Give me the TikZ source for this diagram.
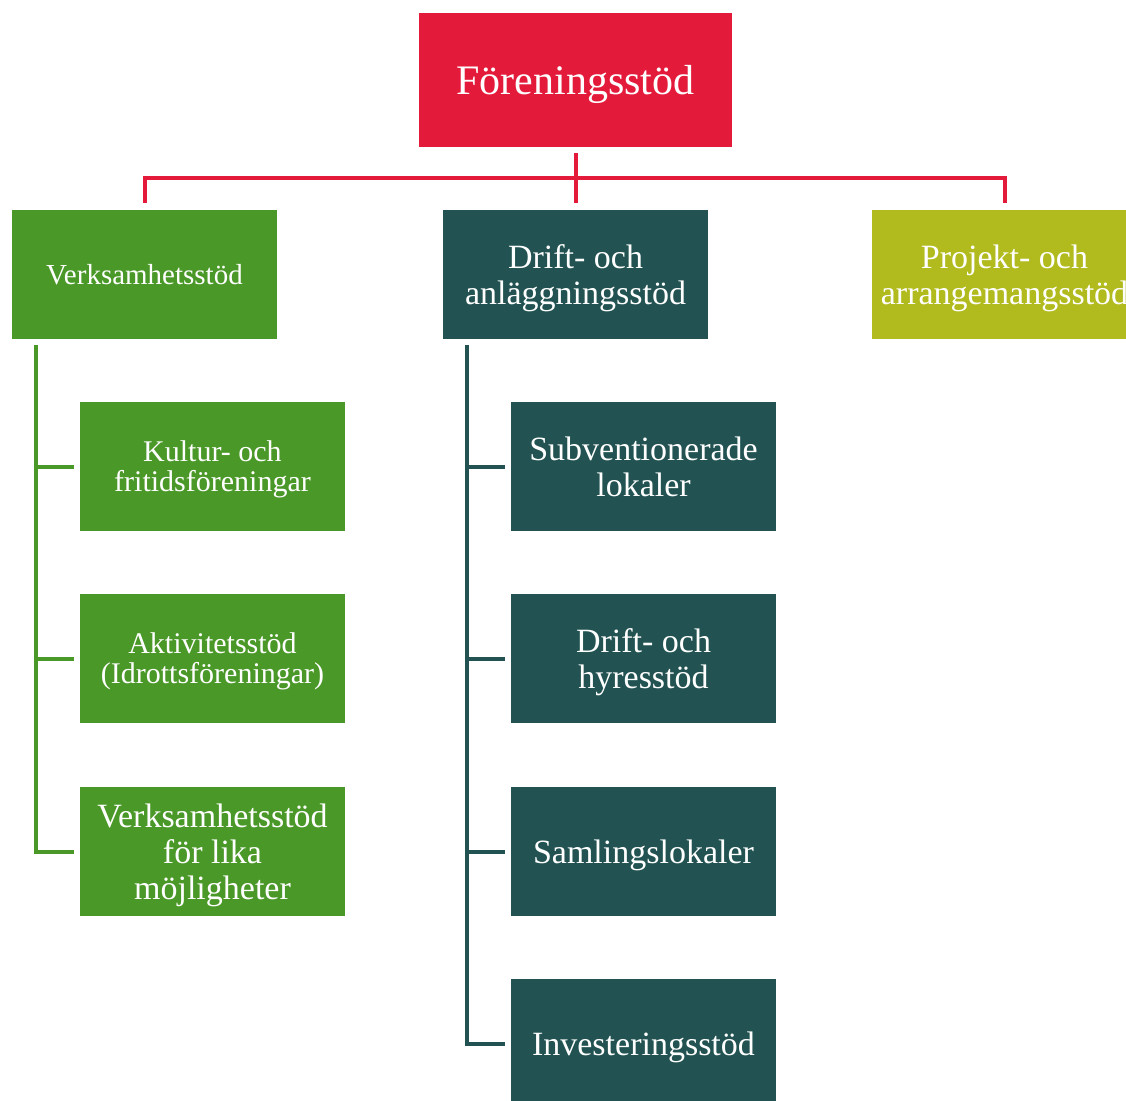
\documentclass[tikz,border=0pt]{standalone}
\usepackage{fontspec}
\setmainfont{Liberation Serif}
\usetikzlibrary{calc}
\definecolor{cred}{RGB}{228,26,59}
\definecolor{cgreen}{RGB}{74,152,40}
\definecolor{cteal}{RGB}{34,83,82}
\definecolor{colive}{RGB}{178,187,30}
\newcommand\nodepthline[1]{\raisebox{0pt}[\height][0pt]{#1}}
\begin{document}
\begin{tikzpicture}[x=1pt,y=-1pt,
  box/.style={minimum width=265, minimum height=129, inner sep=2pt, align=center, text=white, font=\fontsize{34}{36}\selectfont},
  smallbox/.style={box, font=\fontsize{30}{30}\selectfont},
  rline/.style={draw=cred, line width=4},
  gline/.style={draw=cgreen, line width=4},
  tline/.style={draw=cteal, line width=4}]
\useasboundingbox (0,0) rectangle (1126,1100);
\clip (0,0) rectangle (1126,1100);
% top
\node[box, fill=cred, minimum width=313, minimum height=134, font=\fontsize{42}{44}\selectfont] (top) at (575.5,80) {\nodepthline{Föreningsstöd}};
% level 1
\node[box, fill=cgreen, font=\fontsize{29}{32}\selectfont] (va) at (144.5,274.5) {Verksamhetsstöd};
\node[box, fill=cteal] (da) at (575.5,274.5) {Drift- och\\\nodepthline{anläggningsstöd}};
\node[box, fill=colive] (pa) at (1004.5,274.5) {Projekt- och\\\nodepthline{arrangemangsstöd}};
% green children
\node[smallbox, fill=cgreen] (g1) at (212.5,466.5) {Kultur- och\\\nodepthline{fritidsföreningar}};
\node[smallbox, fill=cgreen] (g2) at (212.5,658.5) {Aktivitetsstöd\\\nodepthline{(Idrottsföreningar)}};
\node[box, fill=cgreen] (g3) at (212.5,851.5) {Verksamhetsstöd\\för lika\\\nodepthline{möjligheter}};
% teal children
\node[box, fill=cteal] (t1) at (643.5,466.5) {Subventionerade\\lokaler};
\node[box, fill=cteal] (t2) at (643.5,658.5) {Drift- och\\\nodepthline{hyresstöd}};
\node[box, fill=cteal] (t3) at (643.5,851.5) {\nodepthline{Samlingslokaler}};
\node[box, fill=cteal] (t4) at (643.5,1043.5) {\nodepthline{Investeringsstöd}};
% red connectors
\foreach \n in {va,da,pa}
  \draw[rline, shorten <=6, shorten >=7] (top.south) -- ++(0,31) -| (\n.north);
% green branches
\coordinate (gtop) at ($(va.south west)+(24,6)$);
\foreach \n in {g1,g2,g3}
  \draw[gline, shorten >=6] (gtop) |- (\n.west);
% teal branches
\coordinate (ttop) at ($(da.south west)+(24,6)$);
\foreach \n in {t1,t2,t3,t4}
  \draw[tline, shorten >=6] (ttop) |- (\n.west);
\end{tikzpicture}
\end{document}
